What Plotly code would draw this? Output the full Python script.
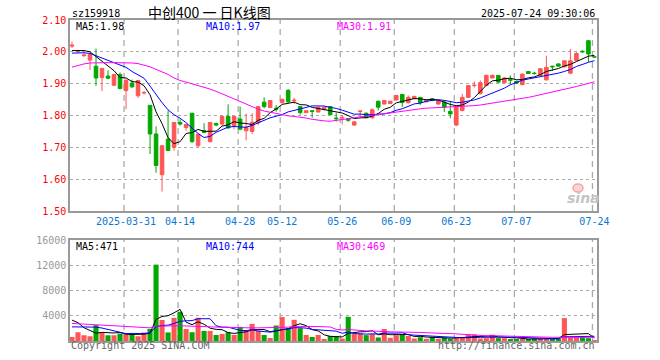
import plotly.graph_objects as go

dates = ['2025-03-18','2025-03-19','2025-03-20','2025-03-21','2025-03-24','2025-03-25','2025-03-26','2025-03-27','2025-03-28','2025-03-31',
'2025-04-01','2025-04-02','2025-04-03','2025-04-07','2025-04-08','2025-04-09','2025-04-10','2025-04-11','2025-04-14','2025-04-15',
'2025-04-16','2025-04-17','2025-04-18','2025-04-21','2025-04-22','2025-04-23','2025-04-24','2025-04-25','2025-04-28','2025-04-29',
'2025-04-30','2025-05-06','2025-05-07','2025-05-08','2025-05-09','2025-05-12','2025-05-13','2025-05-14','2025-05-15','2025-05-16',
'2025-05-19','2025-05-20','2025-05-21','2025-05-22','2025-05-23','2025-05-26','2025-05-27','2025-05-28','2025-05-29','2025-05-30',
'2025-06-03','2025-06-04','2025-06-05','2025-06-06','2025-06-09','2025-06-10','2025-06-11','2025-06-12','2025-06-13','2025-06-16',
'2025-06-17','2025-06-18','2025-06-19','2025-06-20','2025-06-23','2025-06-24','2025-06-25','2025-06-26','2025-06-27','2025-06-30',
'2025-07-01','2025-07-02','2025-07-03','2025-07-04','2025-07-07','2025-07-08','2025-07-09','2025-07-10','2025-07-11','2025-07-14',
'2025-07-15','2025-07-16','2025-07-17','2025-07-18','2025-07-21','2025-07-22','2025-07-23','2025-07-24']

open_ = [2.018,2.001,1.988,1.974,1.955,1.919,1.924,1.895,1.929,1.878,
1.902,1.862,1.871,1.832,1.742,1.614,1.726,1.700,1.778,1.762,
1.807,1.705,1.752,1.718,1.775,1.773,1.797,1.768,1.789,1.752,
1.750,1.777,1.842,1.825,1.823,1.840,1.879,1.846,1.828,1.809,
1.815,1.811,1.820,1.828,1.792,1.792,1.790,1.770,1.813,1.807,
1.793,1.845,1.836,1.838,1.849,1.866,1.840,1.853,1.857,1.843,
1.853,1.836,1.842,1.813,1.770,1.816,1.857,1.894,1.869,1.894,
1.918,1.926,1.903,1.913,1.907,1.897,1.938,1.933,1.926,1.912,
1.955,1.962,1.953,1.933,1.973,2.002,2.035,1.984]
high = [2.032,2.007,1.997,1.993,2.010,1.949,1.942,1.931,1.935,1.913,
1.913,1.912,1.877,1.832,1.766,1.707,1.815,1.779,1.788,1.773,
1.809,1.742,1.776,1.779,1.778,1.800,1.835,1.798,1.828,1.806,
1.807,1.829,1.857,1.849,1.833,1.852,1.883,1.856,1.830,1.816,
1.816,1.828,1.829,1.829,1.808,1.801,1.792,1.782,1.815,1.810,
1.822,1.846,1.848,1.846,1.865,1.868,1.863,1.862,1.858,1.851,
1.855,1.849,1.847,1.845,1.830,1.868,1.895,1.907,1.910,1.928,
1.929,1.927,1.921,1.926,1.909,1.932,1.940,1.937,1.948,1.988,
1.956,1.964,1.973,2.009,1.999,2.005,2.036,1.985]
low = [2.012,1.996,1.984,1.943,1.893,1.877,1.914,1.893,1.882,1.820,
1.887,1.855,1.866,1.679,1.620,1.561,1.688,1.689,1.768,1.752,
1.714,1.700,1.745,1.715,1.766,1.768,1.758,1.757,1.754,1.722,
1.742,1.770,1.822,1.823,1.812,1.839,1.840,1.837,1.803,1.808,
1.793,1.810,1.816,1.801,1.781,1.772,1.780,1.767,1.793,1.792,
1.790,1.816,1.835,1.837,1.847,1.827,1.838,1.851,1.833,1.841,
1.845,1.834,1.811,1.791,1.767,1.813,1.855,1.888,1.866,1.892,
1.916,1.902,1.900,1.897,1.899,1.895,1.931,1.928,1.924,1.910,
1.940,1.954,1.951,1.930,1.971,1.998,1.968,1.983]
close = [2.021,2.003,1.990,1.992,1.918,1.948,1.917,1.929,1.885,1.911,
1.890,1.910,1.872,1.742,1.643,1.705,1.690,1.778,1.773,1.772,
1.718,1.741,1.747,1.778,1.770,1.797,1.761,1.797,1.757,1.763,
1.779,1.828,1.828,1.847,1.820,1.851,1.843,1.848,1.809,1.815,
1.813,1.826,1.826,1.803,1.790,1.794,1.785,1.780,1.814,1.793,
1.818,1.826,1.847,1.845,1.863,1.841,1.857,1.860,1.840,1.849,
1.847,1.847,1.826,1.805,1.829,1.857,1.894,1.895,1.903,1.926,
1.926,1.905,1.918,1.911,1.901,1.930,1.932,1.932,1.947,1.951,
1.953,1.955,1.972,1.972,1.995,2.000,1.993,1.984]
volume = [640,1390,910,750,2510,1280,910,910,1170,1170,
1010,750,1340,1900,12100,3330,1360,3650,4640,1900,
1390,3680,1600,1600,960,1120,1390,960,2240,1600,
2720,1600,960,480,2450,3790,2030,3360,2030,960,
640,960,320,800,750,380,3840,1100,1200,930,
1100,560,1900,500,900,1000,800,400,600,350,
650,350,550,350,500,550,1050,1050,400,450,
1000,450,450,300,300,250,300,450,400,350,
400,310,3630,600,600,600,450,100]

ma5 = [2.004,2.005,2.004,2.000,1.9848,1.9702,1.953,1.9408,1.9194,1.918,
1.9064,1.905,1.8936,1.865,1.8114,1.7744,1.7304,1.7116,1.7178,1.7436,
1.7462,1.7564,1.7502,1.7512,1.7508,1.7666,1.7706,1.7806,1.7764,1.775,
1.7714,1.7848,1.791,1.809,1.8204,1.8348,1.8378,1.8418,1.8342,1.8332,
1.8256,1.8222,1.8178,1.8166,1.8116,1.8078,1.7996,1.7904,1.7926,1.7932,
1.798,1.8062,1.8196,1.8258,1.8398,1.8444,1.8506,1.8532,1.8522,1.8494,
1.8506,1.8486,1.8418,1.8348,1.8308,1.8328,1.8422,1.856,1.8756,1.895,
1.9088,1.911,1.9156,1.9172,1.9122,1.913,1.9184,1.9212,1.9284,1.9384,
1.943,1.9476,1.9556,1.9606,1.9694,1.9788,1.9864,1.9888]
ma10 = [1.996,1.997,1.997,1.995,1.988,1.980,1.973,1.966,1.958,1.9514,
1.9383,1.929,1.9172,1.8922,1.8647,1.8404,1.8177,1.8026,1.7914,1.7775,
1.7603,1.7434,1.7309,1.7345,1.7472,1.7564,1.7635,1.7654,1.7638,1.7629,
1.769,1.7777,1.7858,1.7927,1.7977,1.8031,1.8113,1.8164,1.8216,1.8268,
1.8302,1.830,1.8298,1.8254,1.8224,1.8167,1.8109,1.8041,1.8046,1.8024,
1.8029,1.8029,1.805,1.8092,1.8165,1.8212,1.8284,1.8364,1.839,1.8446,
1.8475,1.8496,1.8475,1.8435,1.8401,1.8417,1.8454,1.8489,1.8552,1.8629,
1.8708,1.8766,1.8858,1.8964,1.9036,1.9109,1.9147,1.9184,1.9228,1.9253,
1.928,1.933,1.9384,1.9445,1.9539,1.9609,1.967,1.9722]
ma30 = [1.952,1.958,1.962,1.965,1.966,1.966,1.966,1.966,1.966,1.966,
1.965,1.963,1.959,1.953,1.945,1.937,1.929,1.918,1.910,1.905,
1.900,1.895,1.889,1.883,1.876,1.868,1.860,1.852,1.843,1.835,
1.827,1.820,1.814,1.810,1.806,1.802,1.799,1.797,1.795,1.792,
1.788,1.785,1.783,1.782,1.784,1.787,1.790,1.793,1.796,1.798,
1.801,1.803,1.806,1.808,1.811,1.814,1.816,1.819,1.821,1.823,
1.824,1.825,1.826,1.826,1.826,1.827,1.829,1.831,1.833,1.836,
1.838,1.840,1.843,1.846,1.849,1.853,1.857,1.861,1.865,1.869,
1.873,1.877,1.881,1.886,1.891,1.896,1.901,1.906]

vma5 = [3310,2900,2100,1700,1240,1368,1272,1272,1356,1088,
1034,1002,1088,1234,3420,3884,4006,4468,5016,2976,
2588,3052,2642,2034,1846,1792,1334,1206,1334,1462,
1782,1824,1824,1472,1642,1856,1942,2422,2732,2434,
1804,1590,982,736,694,642,1218,1374,1454,1490,
1634,978,1138,998,992,972,1020,720,740,630,
560,470,500,450,480,460,600,700,710,700,
790,670,550,530,500,350,320,320,340,350,
380,382,1018,1058,1108,1148,1176,470]
vma10 = [2240,2240,2230,2220,2200,2050,1800,1550,1350,1164,
1201,1137,1180,1295,2254,2459,2504,2778,3125,3198,
3236,3529,3555,3525,2411,2190,2193,1924,1684,1654,
1787,1579,1515,1403,1552,1819,1883,2123,2102,2038,
1830,1766,1702,1734,1564,1223,1404,1178,1095,1092,
1138,1098,1256,1226,1241,1303,999,929,869,811,
766,745,610,595,555,510,535,600,580,590,
625,635,625,620,600,570,495,435,435,425,
365,351,669,699,729,764,779,744]
vma30 = [2780,2740,2700,2650,2600,2550,2480,2420,2360,2300,
2240,2180,2120,2080,2350,2380,2350,2380,2420,2380,
2330,2350,2300,2260,2220,2180,2160,2130,2120,2005,
2075,2082,2083,2074,2072,2156,2193,2275,2304,2297,
2284,2291,2257,2221,1842,1744,1827,1742,1627,1595,
1585,1481,1491,1454,1452,1448,1429,1410,1355,1314,
1245,1203,1189,1185,1120,1012,979,902,848,831,
843,826,830,814,799,794,676,655,628,609,
585,577,635,638,628,615,603,593]

tick_dates = ['2025-03-31','2025-04-14','2025-04-28','2025-05-12','2025-05-26','2025-06-09','2025-06-23','2025-07-07','2025-07-24']
tick_text = ['2025-03-31','04-14','04-28','05-12','05-26','06-09','06-23','07-07','07-24']
vol_ticks = [4000, 8000, 12000, 16000]

RED = '#ff5555'
GREEN = '#00a800'
MONO = 'DejaVu Sans Mono'

W, H = 660, 360
PL, PR, PT, PB = 70, 597, 20, 341
def xp(px):
    return (px - PL) / (PR - PL)
def yp(py):
    return (PB - py) / (PB - PT)

fig = go.Figure()
fig.add_trace(go.Candlestick(
    x=dates, open=open_, high=high, low=low, close=close,
    increasing=dict(line=dict(color=RED, width=1), fillcolor=RED),
    decreasing=dict(line=dict(color=GREEN, width=1), fillcolor=GREEN),
    whiskerwidth=0, xaxis='x', yaxis='y', hoverinfo='skip', showlegend=False))
for vals, col in ((ma5, 'black'), (ma10, 'blue'), (ma30, '#ff00ff')):
    fig.add_trace(go.Scatter(x=dates, y=vals, mode='lines', line=dict(color=col, width=1),
                             xaxis='x', yaxis='y', hoverinfo='skip', showlegend=False))

vcolors = [RED if c >= o else GREEN for o, c in zip(open_, close)]
fig.add_trace(go.Bar(x=dates, y=volume, marker=dict(color=vcolors, line=dict(width=0)),
                     xaxis='x2', yaxis='y2', hoverinfo='skip', showlegend=False))
for vals, col in ((vma5, 'black'), (vma10, 'blue'), (vma30, '#ff00ff')):
    fig.add_trace(go.Scatter(x=dates, y=vals, mode='lines', line=dict(color=col, width=1),
                             xaxis='x2', yaxis='y2', hoverinfo='skip', showlegend=False))

n = len(dates)
xr = [-0.33, n - 1 + 0.43]
frame = dict(showline=True, mirror=True, linecolor='#999999', linewidth=1.5)
main_dom = [yp(211), 1]
vol_dom = [0, yp(240)]

fig.update_layout(
    width=W, height=H, margin=dict(l=PL, r=W - PR, t=PT, b=H - PB),
    paper_bgcolor='white', plot_bgcolor='white',
    font=dict(family=MONO, size=10, color='black'),
    boxgap=0.15, bargap=0.15, showlegend=False,
    xaxis=dict(type='category', categoryorder='array', categoryarray=dates, range=xr,
               domain=[0, 1], anchor='y', showgrid=False, ticks='',
               tickvals=tick_dates, ticktext=tick_text,
               tickfont=dict(family=MONO, size=10, color='#0a78d2'),
               rangeslider=dict(visible=False), fixedrange=True, **frame),
    xaxis2=dict(type='category', categoryorder='array', categoryarray=dates, range=xr,
                domain=[0, 1], anchor='y2', matches='x', showgrid=False, ticks='',
                showticklabels=False, fixedrange=True, **frame),
    yaxis=dict(domain=main_dom, range=[1.5, 2.1], tick0=1.5, dtick=0.1, tickformat='.2f',
               showgrid=True, gridcolor='#aaaaaa', griddash='dot', gridwidth=1,
               zeroline=False, ticks='', tickfont=dict(family=MONO, size=10, color='red'),
               anchor='x', fixedrange=True, **frame),
    yaxis2=dict(domain=vol_dom, range=[0, 16000], tickvals=vol_ticks,
                ticktext=[str(v) for v in vol_ticks],
                showgrid=True, gridcolor='#aaaaaa', griddash='dot', gridwidth=1,
                zeroline=False, ticks='', tickfont=dict(family=MONO, size=10, color='#999999'),
                anchor='x2', fixedrange=True, **frame),
)

shapes = []
for d in tick_dates:
    pos = dates.index(d) - 0.33
    for yr in ('y domain', 'y2 domain'):
        shapes.append(dict(type='line', xref='x', yref=yr, x0=pos, x1=pos, y0=0, y1=1,
                           line=dict(color='#aaaaaa', width=1.3, dash='6px,5px'), layer='below'))
shapes.append(dict(type='circle', xref='paper', yref='paper',
                   x0=xp(573), x1=xp(583), y0=yp(192), y1=yp(184),
                   fillcolor='#fbd5d5', line=dict(color='#f2a6a6', width=1.5)))
fig.update_layout(shapes=shapes)

def ann(text, px, py, color='black', anchor='left', size=10, family=MONO):
    fig.add_annotation(text=text, x=xp(px), y=yp(py), xref='paper', yref='paper',
                       xanchor=anchor, yanchor='middle', showarrow=False,
                       font=dict(family=family, size=size, color=color))

ann('sz159918', 70, 13)
ann('中创400 一 日K线图', 209, 12.5, anchor='center', size=14, family='Noto Sans CJK SC')
ann('2025-07-24 09:30:06', 597, 13, anchor='right')
ann('MA5:1.98', 74, 26)
ann('MA10:1.97', 204, 26, color='blue')
ann('MA30:1.91', 334.5, 26, color='#ff00ff')
ann('MA5:471', 74, 246.5)
ann('MA10:744', 204, 246.5, color='blue')
ann('MA30:469', 334.5, 246.5, color='#ff00ff')
ann('Copyright 2025 SINA.COM', 69, 346, color='#666666')
ann('http://finance.sina.com.cn', 597, 346, color='#666666', anchor='right')
ann('<b><i>sina</i></b>', 583, 198, color='#c4c4c4', anchor='center', size=14, family='DejaVu Sans')

fig.write_html('out.html', config={'displayModeBar': False},
               post_script="document.body.style.margin='0';")
